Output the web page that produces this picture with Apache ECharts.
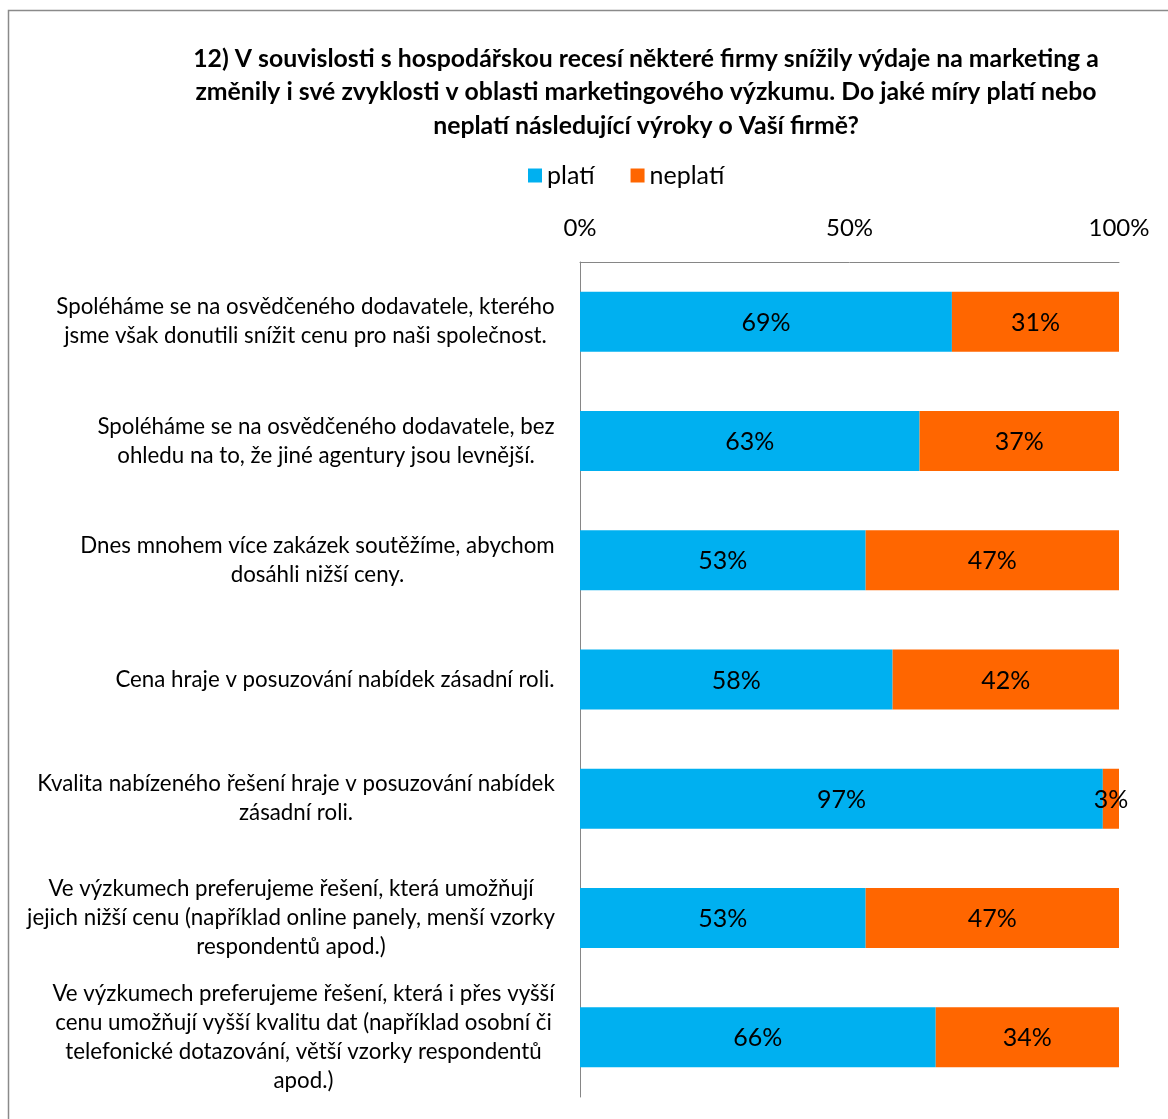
<!DOCTYPE html>
<html>
<head>
<meta charset="utf-8">
<script src="https://cdn.jsdelivr.net/npm/echarts@6/dist/echarts.min.js"></script>
<style>
  html, body { margin: 0; padding: 0; background: #fff; }
  #chart { width: 1168px; height: 1119px; }
</style>
</head>
<body>
<div id="chart"></div>
<script>
// popisky kategorii (kazdy radek zvlast)
const categories = [
  ["Spoléháme se na osvědčeného dodavatele, kterého", "jsme však donutili snížit cenu pro naši společnost."],
  ["Spoléháme se na osvědčeného dodavatele, bez", "ohledu na to, že jiné agentury jsou levnější."],
  ["Dnes mnohem více zakázek soutěžíme, abychom", "dosáhli nižší ceny."],
  ["Cena hraje v posuzování nabídek zásadní roli."],
  ["Kvalita nabízeného řešení hraje v posuzování nabídek", "zásadní roli."],
  ["Ve výzkumech preferujeme řešení, která umožňují", "jejich nižší cenu (například online panely, menší vzorky", "respondentů apod.)"],
  ["Ve výzkumech preferujeme řešení, která i přes vyšší", "cenu umožňují vyšší kvalitu dat (například osobní či", "telefonické dotazování, větší vzorky respondentů", "apod.)"]
];
const platiValues = [69, 63, 53, 58, 97, 53, 66];
const neplatiValues = [31, 37, 47, 42, 3, 47, 34];
const xTicks = [0, 50, 100];

const FONT = "Lato";
const labelSize = 22.3;

// sirka nejdelsiho radku -> radky se centruji v bloku zarovnanem doprava
const ctx = document.createElement("canvas").getContext("2d");
ctx.font = labelSize + "px " + FONT;
const rich = {};
categories.forEach(function (lines, i) {
  let w = 0;
  lines.forEach(function (l) { w = Math.max(w, ctx.measureText(l).width); });
  rich["c" + i] = { width: Math.ceil(w) + 2, align: "center", fontSize: labelSize, fontFamily: FONT, color: "#000", lineHeight: 29 };
});

const chart = echarts.init(document.getElementById("chart"));
chart.setOption({
  animation: false,
  textStyle: { fontFamily: FONT },
  title: {
    text: "12) V souvislosti s hospodářskou recesí některé firmy snížily výdaje na marketing a\nzměnily i své zvyklosti v oblasti marketingového výzkumu. Do jaké míry platí nebo\nneplatí následující výroky o Vaší firmě?",
    left: 641,
    top: 37,
    textAlign: "center",
    textStyle: { fontFamily: FONT, fontWeight: "bold", fontSize: 24.8, lineHeight: 33.5, color: "#000" }
  },
  legend: {
    left: 523,
    top: 158,
    icon: "rect",
    itemWidth: 14,
    itemHeight: 14,
    itemGap: 36,
    itemStyle: { borderWidth: 0 },
    textStyle: { fontFamily: FONT, fontSize: 25, color: "#000" },
    data: ["platí", "neplatí"]
  },
  graphic: [{
    type: "rect",
    silent: true,
    shape: { x: 8.5, y: 10.5, width: 1300, height: 1300 },
    style: { fill: "none", stroke: "#8a8a8a", lineWidth: 1.5 }
  }],
  grid: { left: 580, right: 49, top: 262, bottom: 22 },
  xAxis: {
    type: "value",
    position: "top",
    min: xTicks[0],
    max: xTicks[xTicks.length - 1],
    interval: xTicks[1] - xTicks[0],
    axisLine: { show: true, lineStyle: { color: "#868686", width: 1 } },
    axisTick: { show: false },
    splitLine: { show: false },
    axisLabel: { formatter: "{value}%", fontSize: 24, color: "#000", margin: 22, fontFamily: FONT }
  },
  yAxis: {
    type: "category",
    inverse: true,
    data: categories.map(function (c, i) { return String(i); }),
    axisLine: { show: true, lineStyle: { color: "#868686", width: 1 } },
    axisTick: { show: false },
    axisLabel: {
      interval: 0,
      margin: 24,
      align: "right",
      formatter: function (v) {
        const i = Number(v);
        return categories[i].map(function (l) { return "{c" + i + "|" + l + "}"; }).join("\n");
      },
      rich: rich
    }
  },
  series: [
    {
      name: "platí",
      type: "bar",
      stack: "total",
      barWidth: 60,
      data: platiValues,
      itemStyle: { color: "#00B0F0" },
      label: { show: true, position: "inside", formatter: "{c}%", color: "#000", fontSize: 25, fontFamily: FONT, offset: [0, 1] }
    },
    {
      name: "neplatí",
      type: "bar",
      stack: "total",
      barWidth: 60,
      data: neplatiValues,
      itemStyle: { color: "#FF6600" },
      label: { show: true, position: "inside", formatter: "{c}%", color: "#000", fontSize: 25, fontFamily: FONT, offset: [0, 1] }
    }
  ]
});
</script>
</body>
</html>
